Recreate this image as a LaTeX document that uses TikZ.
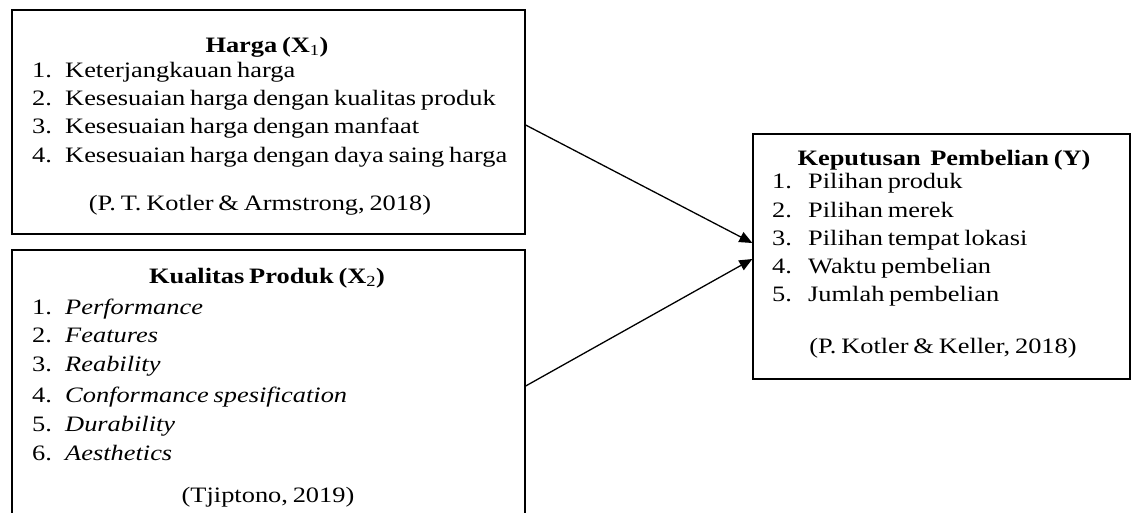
\documentclass[tikz,border=0pt]{standalone}
\usepackage{fontspec}
\setmainfont{Liberation Serif}[FakeStretch=1.2,WordSpace=0.72]
\usetikzlibrary{arrows.meta}
\tikzset{
  box/.style={draw=black, line width=1.3pt, fill=none, inner sep=0pt},
  itm/.style={anchor=base west, inner sep=0pt, font=\fontsize{22}{26}\selectfont},
  ttl/.style={anchor=base, inner sep=0pt, font=\fontsize{22}{26}\selectfont\bfseries},
  cit/.style={anchor=base, inner sep=0pt, font=\fontsize{22}{26}\selectfont},
  conn/.style={draw=black, line width=1.3pt, -{Triangle[length=13pt,width=11pt]}}
}
\begin{document}
\begin{tikzpicture}[x=1pt,y=-1pt]
\clip (0,0) rectangle (1134,512);
\fill[white] (0,0) rectangle (1134,512);
% boxes
\node[box, minimum width=513pt, minimum height=224pt] (h) at (268.5,122) {};
\node[box, minimum width=513pt, minimum height=290pt] (k) at (268.5,395) {};
\node[box, minimum width=377pt, minimum height=245pt] (y) at (941.5,256.5) {};
% box 1
\node[ttl] (h0) at (267,52) {Harga (X\textsubscript{\mdseries 1})};
\node[itm] (h1n) at (32,77) {1.};
\node[itm] (h1) at (65,77) {Keterjangkauan harga};
\node[itm] (h2n) at (32,105) {2.};
\node[itm] (h2) at (65,105) {Kesesuaian harga dengan kualitas produk};
\node[itm] (h3n) at (32,133) {3.};
\node[itm] (h3) at (65,133) {Kesesuaian harga dengan manfaat};
\node[itm] (h4n) at (32,162) {4.};
\node[itm] (h4) at (65,162) {Kesesuaian harga dengan daya saing harga};
\node[cit] (hc) at (260,210) {(P. T. Kotler \& Armstrong, 2018)};
% box 2
\node[ttl] (k0) at (267,283) {Kualitas Produk (X\textsubscript{\mdseries 2})};
\node[itm] (k1n) at (32,314) {1.};
\node[itm] (k1) at (65,314) {\itshape Performance};
\node[itm] (k2n) at (32,342) {2.};
\node[itm] (k2) at (65,342) {\itshape Features};
\node[itm] (k3n) at (32,371) {3.};
\node[itm] (k3) at (65,371) {\itshape Reability};
\node[itm] (k4n) at (32,402) {4.};
\node[itm] (k4) at (65,402) {\itshape Conformance spesification};
\node[itm] (k5n) at (32,431) {5.};
\node[itm] (k5) at (65,431) {\itshape Durability};
\node[itm] (k6n) at (32,460) {6.};
\node[itm] (k6) at (65,460) {\itshape Aesthetics};
\node[cit] (kc) at (268,502) {(Tjiptono, 2019)};
% box 3
\node[ttl] (y0) at (944,165) {Keputusan\ \ Pembelian (Y)};
\node[itm] (y1n) at (772,188) {1.};
\node[itm] (y1) at (808,188) {Pilihan produk};
\node[itm] (y2n) at (772,217) {2.};
\node[itm] (y2) at (808,217) {Pilihan merek};
\node[itm] (y3n) at (772,245) {3.};
\node[itm] (y3) at (808,245) {Pilihan tempat lokasi};
\node[itm] (y4n) at (772,273) {4.};
\node[itm] (y4) at (808,273) {Waktu pembelian};
\node[itm] (y5n) at (772,301) {5.};
\node[itm] (y5) at (808,301) {Jumlah pembelian};
\node[cit] (yc) at (943,353) {(P. Kotler \& Keller, 2018)};
% connectors
\draw[conn] ([yshift=-3pt]h.east) -- ([yshift=13.5pt]y.west);
\draw[conn] ([yshift=9pt]k.east) -- ([yshift=-2.5pt]y.west);
\end{tikzpicture}
\end{document}
